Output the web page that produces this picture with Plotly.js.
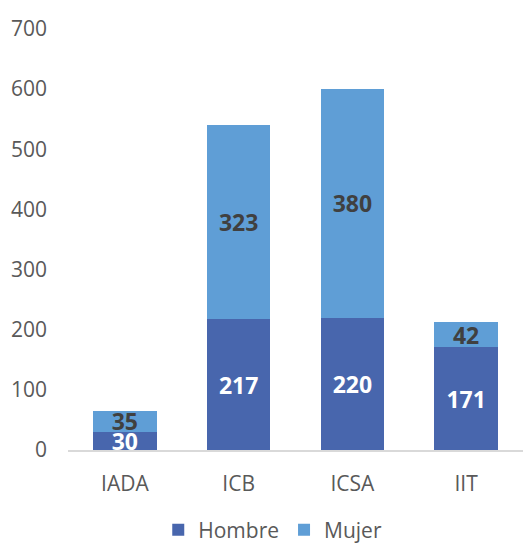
<!DOCTYPE html>
<html>
<head>
<meta charset="utf-8">
<script src="https://cdn.plot.ly/plotly-3.0.1.min.js"></script>
<style>
  html, body { margin: 0; padding: 0; background: #fff; }
  #chart { width: 523px; height: 544px; }
</style>
</head>
<body>
<div id="chart"></div>
<script>
// Data
const institutos = ["IADA", "ICB", "ICSA", "IIT"];
const hombre = [30, 217, 220, 171];
const mujer = [35, 323, 380, 42];

const labelFont = "Open Sans, DejaVu Sans, sans-serif";

const trace1 = {
  x: institutos,
  y: hombre,
  type: "bar",
  name: "Hombre",
  marker: { color: "#4866AD" },
  text: hombre.map(String),
  textposition: "inside",
  insidetextanchor: "middle",
  constraintext: "none",
  textangle: 0,
  textfont: { family: labelFont, size: 23, color: "#ffffff", weight: "bold" },
  hoverinfo: "x+y+name",
};

const trace2 = {
  x: institutos,
  y: mujer,
  type: "bar",
  name: "Mujer",
  marker: { color: "#5F9ED6" },
  text: mujer.map(String),
  textposition: "inside",
  insidetextanchor: "middle",
  constraintext: "none",
  textangle: 0,
  textfont: { family: labelFont, size: 23, color: "#404040", weight: "bold" },
  hoverinfo: "x+y+name",
};

const layout = {
  width: 523,
  height: 544,
  barmode: "stack",
  bargap: 0.44,
  margin: { l: 68, r: 0, t: 29, b: 94, autoexpand: false },
  paper_bgcolor: "#ffffff",
  plot_bgcolor: "#ffffff",
  font: { family: labelFont, size: 21, color: "#595959" },
  xaxis: {
    showline: true,
    linecolor: "#d9d9d9",
    linewidth: 2,
    showgrid: false,
    ticks: "",
    ticklabelstandoff: 14,
    tickfont: { size: 21, color: "#595959" },
  },
  yaxis: {
    range: [0, 700],
    dtick: 100,
    showgrid: false,
    zeroline: false,
    showline: false,
    ticks: "",
    ticklabelstandoff: 20,
    tickfont: { size: 21, color: "#595959" },
  },
  showlegend: true,
  legend: {
    orientation: "h",
    x: 0.45,
    xanchor: "center",
    y: -0.19,
    yanchor: "middle",
    font: { size: 21, color: "#595959" },
    traceorder: "normal",
  },
};

Plotly.newPlot("chart", [trace1, trace2], layout, { displayModeBar: false });
</script>
</body>
</html>
